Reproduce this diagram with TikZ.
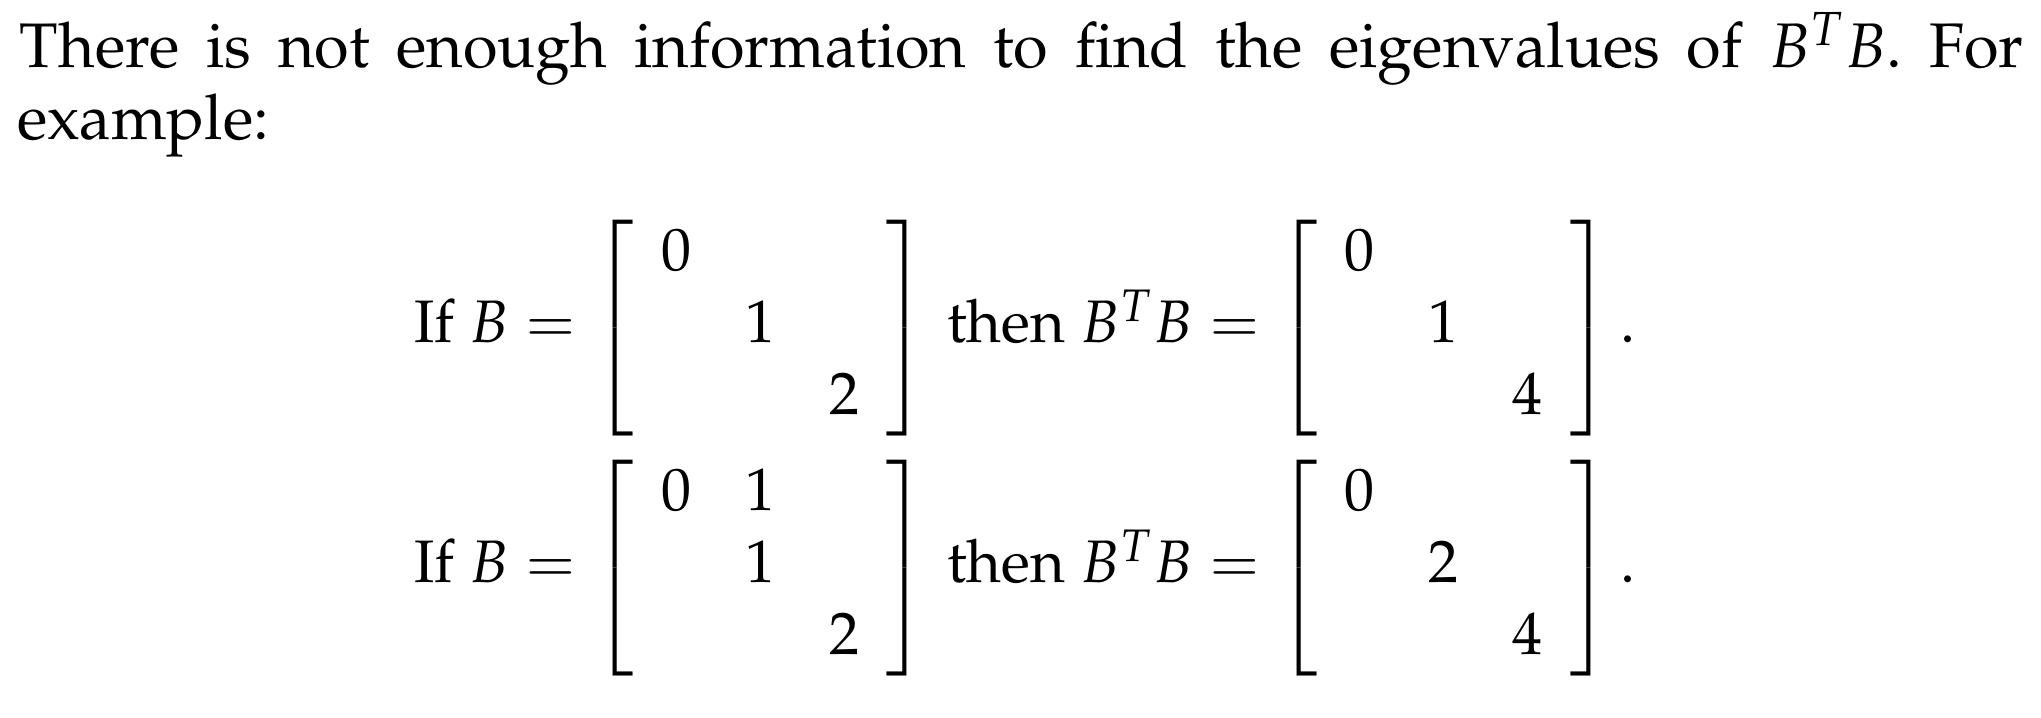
\documentclass[tikz,border=0pt]{standalone}
\usepackage{amsmath}
\usepackage[T1]{fontenc}
\usepackage{mathpazo}
\frenchspacing
\setlength{\arraycolsep}{4.5pt}
\tikzset{
  txt/.style={anchor=base west, inner sep=0pt, outer sep=0pt, font=\fontsize{10.5}{12.6}\selectfont},
  eqn/.style={anchor=base, inner sep=0pt, outer sep=0pt},
}
\newcommand{\mat}[1]{\left[\begin{array}{ccc} #1 \end{array}\right]}
\begin{document}
\begin{tikzpicture}[x=0.16667pt, y=-0.16667pt]
    \useasboundingbox (0,0) rectangle (2041,718);
    \node[txt] (L1) at (20,68) {\makebox[334pt][s]{There is not enough information to find the eigenvalues of $B^TB$. For}};
    \node[txt] (L2) at (17,140) {example:};
    \node[eqn] (E1) at (1025,343) {If $B = \mat{0 & & \\ & 1 & \\ & & 2}$\hspace{3.3pt}then $B^TB = \mat{0 & & \\ & 1 & \\ & & 4}$\hspace{1.5pt}.};
    \node[eqn] (E2) at (1025,583) {If $B = \mat{0 & 1 & \\ & 1 & \\ & & 2}$\hspace{3.3pt}then $B^TB = \mat{0 & & \\ & 2 & \\ & & 4}$\hspace{1.5pt}.};
\end{tikzpicture}
\end{document}
